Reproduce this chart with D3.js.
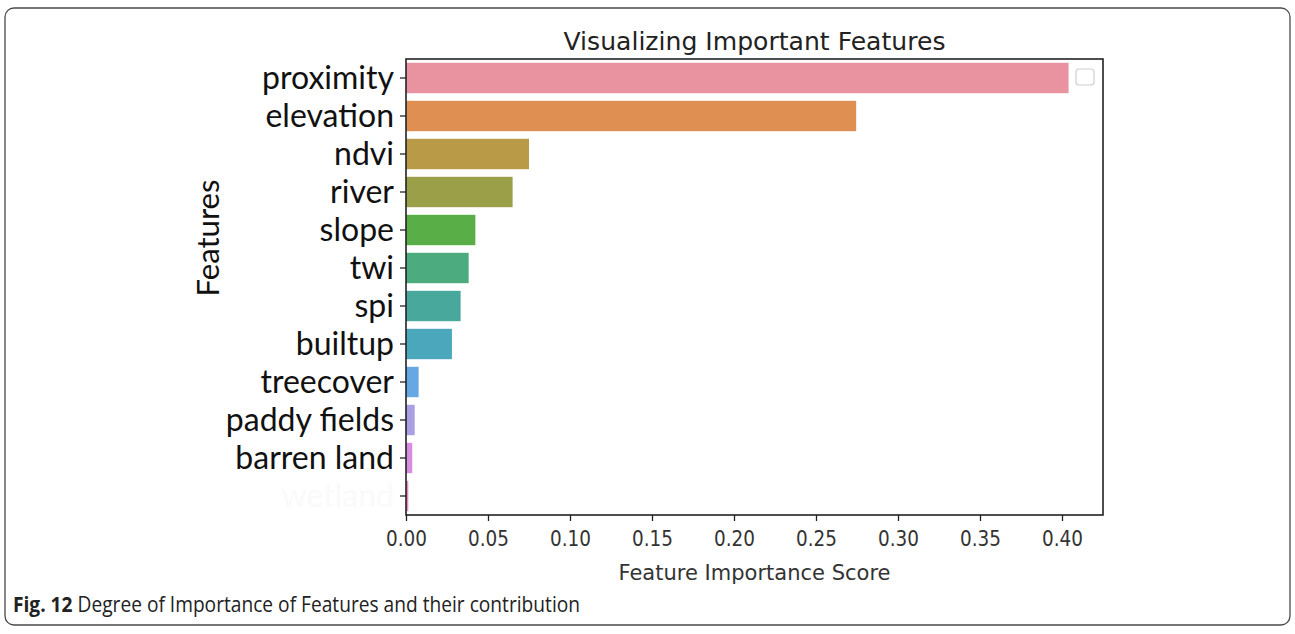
<!DOCTYPE html>
<html><head><meta charset="utf-8">
<script src="https://cdn.jsdelivr.net/npm/d3@7"></script>
<style>body{margin:0;background:#fff}svg{display:block}</style>
</head><body>
<svg id="c" width="1295" height="634"></svg>
<script>
const features = ["proximity","elevation","ndvi","river","slope","twi","spi","builtup","treecover","paddy fields","barren land","wetland"];
const scores = [0.404,0.2745,0.075,0.065,0.0423,0.0382,0.0333,0.028,0.0077,0.0053,0.0038,0.0014];
const colors = ["#e8939f","#df8f52","#b99a46","#9b9f48","#59ae48","#4dab80","#49a89c","#4ba7bc","#66a8e4","#a99fe2","#d78de0","#e38cbf"];
const xTicks = [0,0.05,0.10,0.15,0.20,0.25,0.30,0.35,0.40];

const svg = d3.select("#c");
const L=406, R=1103, T=59, B=515;

function squeeze(sel, w){
  sel.attr("textLength", w).attr("lengthAdjust","spacingAndGlyphs");
  return sel;
}

// outer rounded frame
svg.append("rect").attr("x",5).attr("y",8).attr("width",1285).attr("height",617)
  .attr("rx",9).attr("fill","none").attr("stroke","#4a4a4a").attr("stroke-width",1.3);

const x = d3.scaleLinear().domain([0,(R-L)/1640]).range([L,R]);
const y = d3.scaleBand().domain(features).range([T,B]).paddingInner(0.2).paddingOuter(0.1);

// bars
svg.append("g").selectAll("rect").data(features).join("rect")
  .attr("x",x(0)).attr("y",d=>y(d))
  .attr("width",(d,i)=>x(scores[i])-x(0)).attr("height",y.bandwidth())
  .attr("fill",(d,i)=>colors[i]);

// y axis
const yAx = svg.append("g").attr("transform",`translate(${L},0)`)
  .call(d3.axisLeft(y).tickSize(6).tickPadding(6));
yAx.select(".domain").remove();
yAx.selectAll("line").attr("stroke","#222").attr("stroke-width",1.3);
yAx.selectAll("text").attr("font-family","Lato, 'Open Sans', sans-serif")
  .attr("font-size",28).attr("fill","#111").attr("dy","0.33em");
{
  const t = yAx.selectAll("text").filter(d=>d==="proximity").node();
  const f = 28*132/t.getComputedTextLength();
  yAx.selectAll("text").attr("font-size",f);
}
yAx.selectAll("text").filter(d=>d==="wetland").attr("fill","#fafafa");

// x axis
const xAx = svg.append("g").attr("transform",`translate(0,${B})`)
  .call(d3.axisBottom(x).tickValues(xTicks).tickFormat(d3.format(".2f")).tickSize(6).tickPadding(10));
xAx.select(".domain").remove();
xAx.selectAll("line").attr("stroke","#222").attr("stroke-width",1.3);
xAx.selectAll("text").attr("font-family","'DejaVu Sans', sans-serif").attr("font-size",21.5).attr("fill","#333")
  .attr("textLength",41).attr("lengthAdjust","spacingAndGlyphs");

// frame of axes
svg.append("rect").attr("x",L).attr("y",T).attr("width",R-L).attr("height",B-T)
  .attr("fill","none").attr("stroke","#222").attr("stroke-width",1.6);

// empty legend
svg.append("rect").attr("x",1076).attr("y",69).attr("width",18).attr("height",16).attr("rx",3)
  .attr("fill","#fff").attr("stroke","#cfcfcf").attr("stroke-width",1.2);

// title
squeeze(svg.append("text").attr("x",(L+R)/2).attr("y",50).attr("text-anchor","middle")
  .attr("font-family","'DejaVu Sans', sans-serif").attr("font-size",25.5).attr("fill","#222")
  .text("Visualizing Important Features"), 382);

// x label
squeeze(svg.append("text").attr("x",(L+R)/2).attr("y",580).attr("text-anchor","middle")
  .attr("font-family","'DejaVu Sans', sans-serif").attr("font-size",21.5).attr("fill","#333")
  .text("Feature Importance Score"), 272);

// y label
squeeze(svg.append("text").attr("transform","translate(219,238) rotate(-90)").attr("text-anchor","middle")
  .attr("font-family","Lato, 'Open Sans', sans-serif").attr("font-size",30).attr("fill","#111")
  .text("Features"), 117);

// caption
const cap = svg.append("text").attr("x",13).attr("y",612)
  .attr("font-family","'Open Sans', sans-serif").attr("font-size",21).attr("fill","#222");
cap.append("tspan").attr("font-weight","bold").text("Fig. 12");
cap.append("tspan").text(" Degree of Importance of Features and their contribution");
squeeze(cap, 567);
</script>
</body></html>
